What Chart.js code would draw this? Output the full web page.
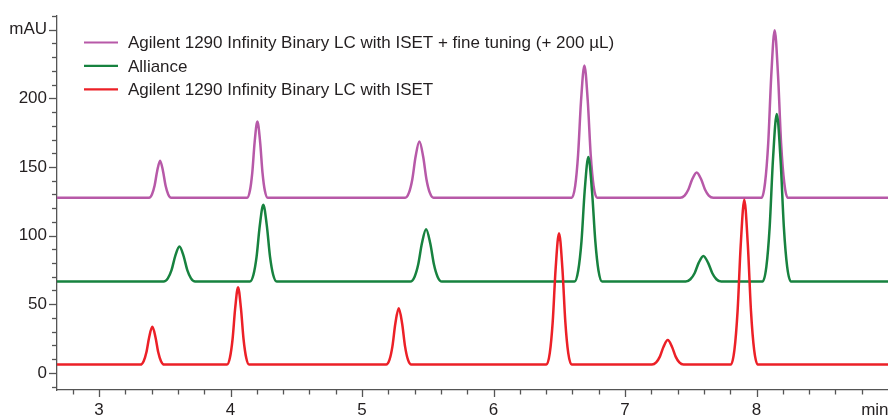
<!DOCTYPE html>
<html><head><meta charset="utf-8">
<script src="https://cdn.jsdelivr.net/npm/chart.js@4.4.1/dist/chart.umd.min.js"></script>
<style>html,body{margin:0;padding:0;background:#fff}#wrap{position:relative;width:888px;height:418px}</style>
</head><body><div id="wrap"><canvas id="c"></canvas></div>
<script>
// ---- data (x in min, y in mAU) ----
const seriesLabels = [
  "Agilent 1290 Infinity Binary LC with ISET",
  "Alliance",
  "Agilent 1290 Infinity Binary LC with ISET + fine tuning (+ 200 µL)"
];
const redTimes = [2.68,
  3.315,3.339,3.360,3.381,3.405,3.429,3.450,3.471,3.495,
  3.973,3.995,4.015,4.035,4.057,4.079,4.099,4.119,4.141,
  5.183,5.209,5.231,5.253,5.279,5.305,5.327,5.349,5.375,
  6.402,6.428,6.450,6.472,6.498,6.524,6.546,6.568,6.594,
  7.205,7.237,7.265,7.293,7.325,7.357,7.385,7.413,7.445,
  7.805,7.832,7.856,7.880,7.907,7.934,7.958,7.982,8.009,
  9.0];
const redValues = [6,
  6,8.5,15.0,26.0,33.6,26.0,15.0,8.5,6,
  6,11.0,24.3,46.9,62.3,46.9,24.3,11.0,6,
  6,9.6,19.3,35.8,47.0,35.8,19.3,9.6,6,
  6,14.5,37.1,75.6,101.8,75.6,37.1,14.5,6,
  6,7.6,11.8,19.0,23.9,19.0,11.8,7.6,6,
  6,16.7,45.0,93.2,126.1,93.2,45.0,16.7,6,
  6];
const greenTimes = [2.68,
  3.491,3.523,3.551,3.579,3.611,3.643,3.671,3.699,3.731,
  4.147,4.174,4.198,4.222,4.249,4.276,4.300,4.324,4.351,
  5.367,5.399,5.427,5.455,5.487,5.519,5.547,5.575,5.607,
  6.616,6.644,6.669,6.693,6.721,6.749,6.774,6.798,6.826,
  7.461,7.497,7.529,7.560,7.596,7.632,7.664,7.695,7.731,
  8.046,8.075,8.100,8.125,8.154,8.183,8.208,8.233,8.262,
  9.0];
const greenValues = [66.5,
  66.5,68.8,74.8,85.0,92.0,85.0,74.8,68.8,66.5,
  66.5,71.5,84.7,107.1,122.4,107.1,84.7,71.5,66.5,
  66.5,69.9,78.9,94.2,104.7,94.2,78.9,69.9,66.5,
  66.5,74.6,96.0,132.3,157.2,132.3,96.0,74.6,66.5,
  66.5,68.2,72.6,80.1,85.2,80.1,72.6,68.2,66.5,
  66.5,77.4,106.2,155.1,188.6,155.1,106.2,77.4,66.5,
  66.5];
const purpleTimes = [2.68,
  3.380,3.402,3.422,3.442,3.464,3.486,3.506,3.526,3.548,
  4.126,4.147,4.165,4.183,4.204,4.225,4.243,4.261,4.282,
  5.328,5.357,5.382,5.407,5.436,5.465,5.490,5.515,5.544,
  6.595,6.621,6.643,6.665,6.691,6.717,6.739,6.761,6.787,
  7.419,7.453,7.482,7.511,7.545,7.579,7.608,7.637,7.671,
  8.039,8.065,8.089,8.112,8.138,8.164,8.187,8.211,8.237,
  9.0];
const purpleValues = [127.6,
  127.6,130.0,136.3,147.1,154.5,147.1,136.3,130.0,127.6,
  127.6,132.6,145.7,168.0,183.2,168.0,145.7,132.6,127.6,
  127.6,131.3,140.9,157.4,168.6,157.4,140.9,131.3,127.6,
  127.6,136.2,158.9,197.5,223.9,197.5,158.9,136.2,127.6,
  127.6,129.2,133.6,141.0,146.0,141.0,133.6,129.2,127.6,
  127.6,138.5,167.3,216.2,249.6,216.2,167.3,138.5,127.6,
  127.6];
// tick labels keyed by tenths of a minute / by mAU value
const xTickLabels = {30:"3",40:"4",50:"5",60:"6",70:"7",80:"8",89:"min"};
const yTickLabels = {0:"0",50:"50",100:"100",150:"150",200:"200",250:"mAU"};

// ---- styles ----
const COLORS = ["#EC2027", "#17823F", "#B759A8"];
const AXIS = "#555555";
const TEXT = "#231F20";
const FONT = '"Liberation Sans", Arial, sans-serif';

function pts(xs, ys){ return xs.map((x,i)=>({x:x, y:ys[i]})); }

const legendOrder = [2,1,0];
const insideLegend = {
  id: 'insideLegend',
  afterDraw(chart){
    const ctx = chart.ctx, ca = chart.chartArea;
    ctx.save();
    ctx.font = '17px ' + FONT;
    ctx.textBaseline = 'middle';
    ctx.textAlign = 'left';
    legendOrder.forEach((di,row)=>{
      const ds = chart.data.datasets[di];
      const y = ca.top + 26.5 + row*23.4;
      ctx.strokeStyle = ds.borderColor; ctx.lineWidth = 2.2;
      ctx.beginPath(); ctx.moveTo(ca.left+27, y); ctx.lineTo(ca.left+61, y); ctx.stroke();
      ctx.fillStyle = TEXT;
      ctx.fillText(ds.label, ca.left+71, y+1);
    });
    ctx.restore();
  }
};
const tickMarks = {
  id: 'tickMarks',
  afterDraw(chart){
    const ctx = chart.ctx;
    ctx.save(); ctx.strokeStyle = AXIS; ctx.lineWidth = 1.3;
    const xs = chart.scales.x;
    xs.ticks.forEach(t=>{
      const tenth = Math.round(t.value*10);
      if (tenth % 2 !== 0 || tenth >= 90) return;
      const major = tenth % 10 === 0;
      const px = Math.round(xs.getPixelForValue(t.value)) + 0.5;
      ctx.beginPath(); ctx.moveTo(px, xs.top); ctx.lineTo(px, xs.top + (major?7:4.5)); ctx.stroke();
    });
    const ys = chart.scales.y;
    ys.ticks.forEach(t=>{
      const major = Math.round(t.value) % 50 === 0;
      const py = Math.round(ys.getPixelForValue(t.value)) + 0.5;
      ctx.beginPath(); ctx.moveTo(ys.right - (major?8:5), py); ctx.lineTo(ys.right, py); ctx.stroke();
    });
    ctx.restore();
  }
};

new Chart(document.getElementById('c'), {
  type: 'line',
  data: {
    datasets: [
      {label: seriesLabels[0], data: pts(redTimes, redValues), borderColor: COLORS[0]},
      {label: seriesLabels[1], data: pts(greenTimes, greenValues), borderColor: COLORS[1]},
      {label: seriesLabels[2], data: pts(purpleTimes, purpleValues), borderColor: COLORS[2]}
    ]
  },
  options: {
    responsive: true, maintainAspectRatio: false, animation: false, devicePixelRatio: 1,
    layout: {padding: {top: 16, left: 0, right: 0, bottom: 0}},
    elements: {
      point: {radius: 0},
      line: {borderWidth: 2.5, cubicInterpolationMode: 'monotone', fill: false}
    },
    plugins: {legend: {display: false}, tooltip: {enabled: false}},
    scales: {
      x: {
        type: 'linear', min: 2.68, max: 9.0,
        grid: {display: false, drawTicks: false},
        border: {display: true, color: AXIS, width: 1.3},
        ticks: {
          stepSize: 0.1, includeBounds: false, autoSkip: false, maxRotation: 0, padding: 10,
          color: TEXT, font: {family: FONT, size: 17},
          callback: (v)=>{ const k = Math.round(v*10); return xTickLabels[k] || ''; }
        },
        afterFit: (s)=>{ s.height = 28; s.paddingLeft = 0; s.paddingRight = 0; }
      },
      y: {
        type: 'linear', min: -12.5, max: 260,
        grid: {display: false, drawTicks: false},
        border: {display: true, color: AXIS, width: 1.3},
        ticks: {
          stepSize: 10, includeBounds: false, autoSkip: false, padding: 10,
          color: TEXT, font: {family: FONT, size: 17},
          callback: (v)=>{ const r = Math.round(v); return yTickLabels[r] !== undefined ? yTickLabels[r] : ''; }
        },
        afterFit: (s)=>{ s.width = 57; s.paddingTop = 0; s.paddingBottom = 0; }
      }
    }
  },
  plugins: [tickMarks, insideLegend]
});
</script>
</body></html>
